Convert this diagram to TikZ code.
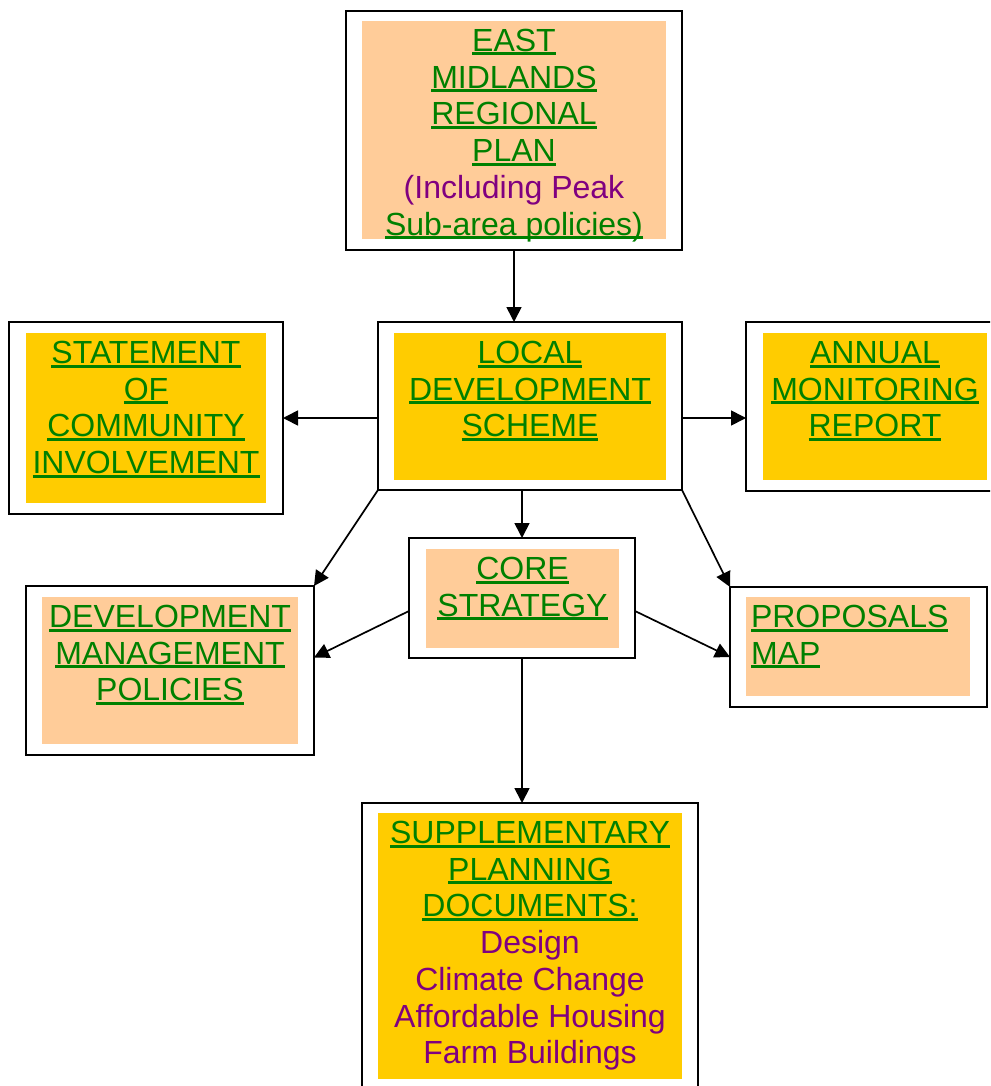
\documentclass[tikz,border=0pt]{standalone}
\usepackage{fontspec}
\setmainfont{Liberation Sans}
\usetikzlibrary{arrows.meta,calc}
\definecolor{tgreen}{HTML}{008000}
\definecolor{tpurple}{HTML}{800080}
\definecolor{peach}{HTML}{FFCC99}
\definecolor{gold}{HTML}{FFCC00}
\newcommand\ulg[1]{\setbox0\hbox{#1}\rlap{\rule[-4pt]{\wd0}{3pt}}\box0}
\newcommand\fst{\rule{0pt}{30.5pt}}
\begin{document}
\begin{tikzpicture}[x=1pt,y=-1pt,
  outerbox/.style={draw=black,line width=2pt,inner sep=0pt,outer sep=0pt},
  txt/.style={inner sep=0pt,outer sep=0pt,align=center,anchor=north,text=tgreen,
    font=\fontsize{32pt}{36.7pt}\selectfont},
  conn/.style={line width=1.7pt,-{Triangle[length=15pt,width=15pt]}}]
\useasboundingbox (0,0) rectangle (990,1086);
\clip (0,0) rectangle (990,1086);
\fill[white] (0,0) rectangle (990,1086);

% inner fills
\fill[peach] (362,21) rectangle (666,239);
\fill[gold] (26,333) rectangle (266,503);
\fill[gold] (394,333) rectangle (666,480);
\fill[gold] (763,333) rectangle (987,480);
\fill[peach] (426,549) rectangle (619,648);
\fill[peach] (42,597) rectangle (298,744);
\fill[peach] (746,597) rectangle (970,696);
\fill[gold] (378,813) rectangle (682,1079);

% outer boxes
\node[outerbox,minimum width=336pt,minimum height=239pt] (emrp) at (514,130.5) {};
\node[outerbox,minimum width=274pt,minimum height=192pt] (sci) at (146,418) {};
\node[outerbox,minimum width=304pt,minimum height=168pt] (lds) at (530,406) {};
\node[outerbox,minimum width=258pt,minimum height=169pt] (amr) at (875,406.5) {};
\node[outerbox,minimum width=226pt,minimum height=120pt] (core) at (522,598) {};
\node[outerbox,minimum width=288pt,minimum height=169pt] (dmp) at (170,670.5) {};
\node[outerbox,minimum width=257pt,minimum height=120pt] (prop) at (858.5,647) {};
\node[outerbox,minimum width=336pt,minimum height=287pt] (spd) at (530,946.5) {};

% texts
\node[txt] (emrpt) at (514,21) {\fst\ulg{EAST}\\\ulg{MIDLANDS}\\\ulg{REGIONAL}\\\ulg{PLAN}\\\textcolor{tpurple}{(Including Peak}\\\ulg{Sub-area policies)}};
\node[txt] (scit) at (146,333) {\fst\ulg{STATEMENT}\\\ulg{OF}\\\ulg{COMMUNITY}\\\ulg{INVOLVEMENT}};
\node[txt] (ldst) at (530,333) {\fst\ulg{LOCAL}\\\ulg{DEVELOPMENT}\\\ulg{SCHEME}};
\node[txt] (amrt) at (875,333) {\fst\ulg{ANNUAL}\\\ulg{MONITORING}\\\ulg{REPORT}};
\node[txt] (coret) at (522.5,549) {\fst\ulg{CORE}\\\ulg{STRATEGY}};
\node[txt] (dmpt) at (170,597) {\fst\ulg{DEVELOPMENT}\\\ulg{MANAGEMENT}\\\ulg{POLICIES}};
\node[txt,align=left,anchor=north west] (propt) at (751,597) {\fst\ulg{PROPOSALS}\\\ulg{MAP}};
\node[txt] (spdt) at (530,813) {\fst\ulg{SUPPLEMENTARY}\\\ulg{PLANNING}\\\ulg{DOCUMENTS:}\\\textcolor{tpurple}{Design}\\\textcolor{tpurple}{Climate Change}\\\textcolor{tpurple}{Affordable Housing}\\\textcolor{tpurple}{Farm Buildings}};

% connectors
\draw[conn] (emrp.south) -- (emrp.south |- lds.north);
\draw[conn] ([yshift=-12pt]lds.west) -- (sci.east);
\draw[conn] ([yshift=-12pt]lds.east) -- ([yshift=-11.5pt]amr.west);
\draw[conn] (core.north |- lds.south) -- (core.north);
\draw[conn] (lds.south west) -- (dmp.north east);
\draw[conn] (lds.south east) -- (prop.north west);
\draw[conn] ([yshift=-13pt]core.west) -- ([yshift=13pt]dmp.east);
\draw[conn] ([yshift=-13pt]core.east) -- ([yshift=-10pt]prop.west);
\draw[conn] (core.south) -- (core.south |- spd.north);
\end{tikzpicture}
\end{document}
